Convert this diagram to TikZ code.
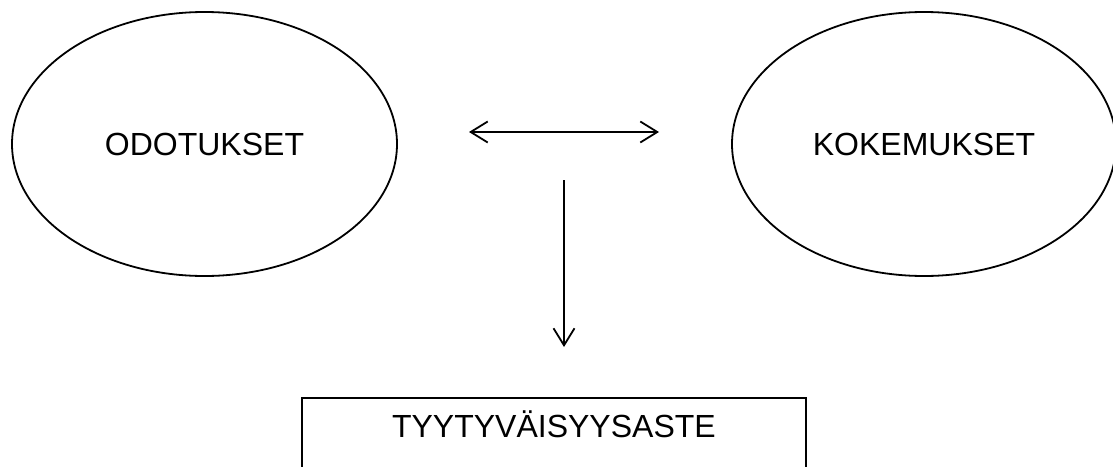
\documentclass[tikz,border=0pt]{standalone}
\usepackage{fontspec}
\setmainfont{Liberation Sans}
\usetikzlibrary{shapes.geometric,arrows.meta}
\tikzset{
  bubble/.style={ellipse, draw, line width=1.8pt, inner sep=0pt,
    minimum width=385pt, minimum height=264pt},
  label text/.style={font=\fontsize{32}{38}\selectfont},
  barb/.tip={Straight Barb[length=17pt,width=21pt,line width=1.8pt]},
  link/.style={line width=1.8pt, -barb},
  twoway/.style={line width=1.8pt, barb-barb},
}
\begin{document}
\begin{tikzpicture}[x=1pt,y=-1pt]
  \clip (0,0) rectangle (1113,466);
  \useasboundingbox (0,0) rectangle (1113,466);

  \node[bubble, label text] (odo) at (204.5,144) {ODOTUKSET};
  \node[bubble, label text, minimum width=384pt] (kok) at (924,144) {KOKEMUKSET};

  \node[draw, line width=1.8pt, anchor=north west, inner sep=0pt,
        minimum width=504pt, text height=40pt, text depth=60pt, label text]
        (tyy) at (301,397) {TYYTYVÄISYYSASTE};

  \coordinate (hl) at (469,132);
  \coordinate (hr) at (659,132);
  \coordinate (vt) at (564,180);
  \coordinate (vb) at (564,347);

  \draw[twoway] (hl) -- (hr);
  \draw[link] (vt) -- (vb);
\end{tikzpicture}
\end{document}
